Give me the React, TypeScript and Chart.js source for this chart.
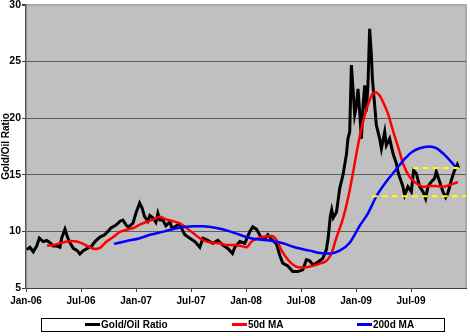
import { useEffect, useRef } from "react";
import { Chart, registerables } from "chart.js";

Chart.register(...registerables);

// x positions are decimal years (2006.0 = 1 Jan 2006)
const tickYears = [2006, 2006.5, 2007, 2007.5, 2008, 2008.5, 2009, 2009.5];
const tickLabels = ["Jan-06", "Jul-06", "Jan-07", "Jul-07", "Jan-08", "Jul-08", "Jan-09", "Jul-09"];
const yTicks = [5, 10, 15, 20, 25, 30];

const seriesNames = ["Gold/Oil Ratio", "50d MA", "200d MA"];

const ratioDates = [
  2006.006, 2006.036, 2006.066, 2006.097, 2006.121, 2006.157, 2006.188, 2006.218, 2006.248, 2006.279,
  2006.309, 2006.324, 2006.354, 2006.370, 2006.393, 2006.430, 2006.466, 2006.490, 2006.520, 2006.557,
  2006.597, 2006.627, 2006.672, 2006.715, 2006.745, 2006.772, 2006.808, 2006.836, 2006.854, 2006.881,
  2006.915, 2006.931, 2006.972, 2006.999, 2007.033, 2007.054, 2007.078, 2007.108, 2007.126, 2007.153,
  2007.181, 2007.199, 2007.217, 2007.244, 2007.272, 2007.308, 2007.326, 2007.353, 2007.381, 2007.399,
  2007.444, 2007.490, 2007.535, 2007.580, 2007.608, 2007.653, 2007.698, 2007.744, 2007.789, 2007.835,
  2007.877, 2007.898, 2007.944, 2007.989, 2008.035, 2008.062, 2008.095, 2008.141, 2008.171, 2008.198,
  2008.232, 2008.277, 2008.307, 2008.334, 2008.380, 2008.425, 2008.470, 2008.516, 2008.549, 2008.579,
  2008.607, 2008.640, 2008.670, 2008.698, 2008.731, 2008.748, 2008.766, 2008.779, 2008.793, 2008.822,
  2008.834, 2008.852, 2008.882, 2008.913, 2008.927, 2008.943, 2008.958, 2008.973, 2008.988, 2009.004,
  2009.018, 2009.034, 2009.049, 2009.064, 2009.079, 2009.094, 2009.109, 2009.124, 2009.140, 2009.149,
  2009.170, 2009.185, 2009.200, 2009.215, 2009.231, 2009.261, 2009.276, 2009.306, 2009.336, 2009.367,
  2009.381, 2009.397, 2009.427, 2009.442, 2009.472, 2009.503, 2009.524, 2009.549, 2009.579, 2009.609,
  2009.633, 2009.654, 2009.685, 2009.715, 2009.730, 2009.760, 2009.790, 2009.815, 2009.836, 2009.866,
  2009.896, 2009.921, 2009.933,
];
const ratioValues = [
  8.4, 8.6, 8.2, 8.7, 9.4, 9.1, 9.2, 9.0, 8.7, 8.7,
  8.6, 9.4, 10.2, 9.7, 9.1, 8.5, 8.3, 8.0, 8.3, 8.5,
  8.7, 9.1, 9.5, 9.7, 10.0, 10.3, 10.5, 10.7, 10.9, 11.0,
  10.5, 10.4, 10.7, 11.6, 12.5, 12.1, 11.3, 10.9, 11.4, 11.2,
  10.8, 11.6, 11.0, 11.0, 10.5, 10.85, 10.3, 10.4, 10.6, 10.55,
  9.7, 9.4, 9.1, 8.6, 9.4, 9.2, 8.95, 9.2, 8.8, 8.5,
  8.05, 8.6, 9.1, 8.95, 10.0, 10.4, 10.2, 9.4, 9.3, 9.7,
  9.3, 8.9, 7.9, 7.2, 6.95, 6.45, 6.45, 6.6, 7.5, 7.4,
  7.05, 7.2, 7.4, 7.6, 8.4, 9.5, 11.3, 11.9, 11.2, 11.7,
  12.5, 13.8, 15.0, 16.8, 18.2, 18.8, 24.7, 22.6, 20.3, 21.1,
  22.6, 20.5, 18.2, 21.1, 22.9, 20.6, 23.0, 27.9, 25.6, 23.5,
  21.1, 19.4, 18.8, 18.2, 17.3, 18.8, 17.6, 18.2, 16.9, 16.0,
  15.3, 14.8, 13.95, 13.2, 13.95, 13.5, 15.4, 15.1, 13.95, 13.5,
  12.9, 13.95, 14.4, 14.7, 15.3, 14.4, 13.5, 13.0, 13.4, 14.5,
  15.4, 15.9, 15.6,
];

const ma50Dates = [
  2006.191, 2006.248, 2006.309, 2006.370, 2006.415, 2006.460, 2006.520, 2006.581, 2006.627, 2006.672,
  2006.733, 2006.793, 2006.854, 2006.915, 2006.975, 2007.035, 2007.096, 2007.156, 2007.217, 2007.278,
  2007.338, 2007.399, 2007.460, 2007.520, 2007.580, 2007.641, 2007.701, 2007.762, 2007.823, 2007.898,
  2007.959, 2008.005, 2008.050, 2008.110, 2008.171, 2008.232, 2008.277, 2008.322, 2008.382, 2008.443,
  2008.504, 2008.564, 2008.625, 2008.670, 2008.731, 2008.777, 2008.822, 2008.882, 2008.927, 2008.973,
  2009.018, 2009.064, 2009.109, 2009.154, 2009.179, 2009.215, 2009.245, 2009.291, 2009.336, 2009.397,
  2009.427, 2009.488, 2009.549, 2009.609, 2009.669, 2009.730, 2009.790, 2009.851, 2009.896, 2009.927,
];
const ma50Values = [
  8.75, 8.8, 8.95, 9.1, 9.15, 9.1, 8.9, 8.6, 8.45, 8.55,
  9.1, 9.5, 9.95, 10.15, 10.3, 10.6, 10.85, 11.05, 11.3, 11.05,
  10.9, 10.7, 10.3, 9.85, 9.4, 9.1, 9.0, 8.95, 8.8, 8.8,
  8.7, 8.6, 9.1, 9.4, 9.55, 9.6, 9.25, 8.35, 7.5, 6.95,
  6.8, 6.85, 7.0, 7.15, 7.4, 8.05, 9.45, 11.15, 12.9, 15.2,
  17.6, 19.7, 21.2, 22.2, 22.3, 22.0, 21.45, 20.4, 18.9, 17.0,
  16.0, 14.8, 14.25, 13.95, 14.0, 14.0, 13.95, 14.1, 14.25, 14.35,
];

const ma200Dates = [
  2006.799, 2006.915, 2007.035, 2007.126, 2007.260, 2007.381, 2007.520, 2007.610, 2007.732, 2007.853,
  2007.974, 2008.095, 2008.216, 2008.337, 2008.459, 2008.579, 2008.670, 2008.761, 2008.852, 2008.943,
  2009.034, 2009.109, 2009.185, 2009.276, 2009.367, 2009.442, 2009.506, 2009.579, 2009.669, 2009.730,
  2009.790, 2009.851, 2009.915,
];
const ma200Values = [
  8.9, 9.15, 9.4, 9.7, 10.0, 10.3, 10.45, 10.45, 10.3, 10.0,
  9.6, 9.3, 9.2, 8.95, 8.55, 8.3, 8.1, 8.05, 8.3, 9.0,
  10.5, 11.6, 13.1, 14.4, 15.5, 16.4, 17.0, 17.35, 17.5, 17.35,
  16.9, 16.3, 15.6,
];

const bandHigh = 15.6;
const bandHighSpan = [2009.515, 2009.94];
const bandLow = 13.1;
const bandLowSpan = [2009.143, 2010.0];

const FONT = "Arial, 'Liberation Sans', sans-serif";

const pts = (xs: number[], ys: number[]) => xs.map((x, i) => ({ x, y: ys[i] }));

const plotBg = {
  id: "plotBg",
  beforeDraw(chart: any) {
    const { ctx, chartArea: a } = chart;
    ctx.save();
    ctx.fillStyle = "#c0c0c0";
    ctx.fillRect(a.left, a.top, a.right - a.left, a.bottom - a.top);
    ctx.strokeStyle = "#a9a9a9";
    ctx.lineWidth = 2;
    ctx.beginPath();
    ctx.moveTo(a.left, a.top);
    ctx.lineTo(a.right, a.top);
    ctx.lineTo(a.right, a.bottom);
    ctx.stroke();
    ctx.restore();
  },
};

const boxLegend = {
  id: "boxLegend",
  afterDraw(chart: any) {
    const ctx = chart.ctx;
    ctx.save();
    ctx.fillStyle = "#ffffff";
    ctx.fillRect(42, 319, 402, 12);
    ctx.strokeStyle = "#000000";
    ctx.lineWidth = 1;
    ctx.strokeRect(41.5, 318.5, 403, 13);
    const starts = [85, 232, 357];
    ctx.font = `bold 10px ${FONT}`;
    ctx.textBaseline = "middle";
    ctx.textAlign = "left";
    seriesNames.forEach((name, i) => {
      const ds = chart.data.datasets[i];
      ctx.strokeStyle = ds.borderColor;
      ctx.lineWidth = 3;
      ctx.beginPath();
      ctx.moveTo(starts[i], 324.5);
      ctx.lineTo(starts[i] + 15, 324.5);
      ctx.stroke();
      ctx.fillStyle = "#000";
      ctx.fillText(name, starts[i] + 16, 325);
    });
    ctx.restore();
  },
};

export default function App() {
  const ref = useRef<HTMLCanvasElement | null>(null);
  useEffect(() => {
    document.body.style.margin = "0";
    const chart = new Chart(ref.current as HTMLCanvasElement, {
      type: "line",
      data: {
        datasets: [
          {
            label: seriesNames[0],
            data: pts(ratioDates, ratioValues),
            borderColor: "#000000",
            borderWidth: 3,
            pointRadius: 0,
            tension: 0,
            order: 3,
          },
          {
            label: seriesNames[1],
            data: pts(ma50Dates, ma50Values),
            borderColor: "#ff0000",
            borderWidth: 2.5,
            pointRadius: 0,
            cubicInterpolationMode: "monotone",
            order: 2,
          },
          {
            label: seriesNames[2],
            data: pts(ma200Dates, ma200Values),
            borderColor: "#0000ff",
            borderWidth: 2.5,
            pointRadius: 0,
            cubicInterpolationMode: "monotone",
            order: 1,
          },
          {
            label: "upper",
            data: bandHighSpan.map((x) => ({ x, y: bandHigh })),
            borderColor: "#ffff00",
            borderWidth: 2,
            borderDash: [6, 4],
            pointRadius: 0,
            order: 0,
          },
          {
            label: "lower",
            data: bandLowSpan.map((x) => ({ x, y: bandLow })),
            borderColor: "#ffff00",
            borderWidth: 2,
            borderDash: [6, 4],
            pointRadius: 0,
            order: 0,
          },
        ],
      },
      options: {
        animation: false,
        responsive: false,
        maintainAspectRatio: false,
        layout: { padding: { left: 0, top: 5, right: 4, bottom: 28 } },
        plugins: { legend: { display: false }, tooltip: { enabled: false } },
        scales: {
          x: {
            type: "linear",
            min: 2006,
            max: 2010,
            afterBuildTicks: (s: any) => {
              s.ticks = tickYears.map((v) => ({ value: v }));
            },
            afterFit: (s: any) => {
              s.height = 20;
              s.paddingLeft = 0;
              s.paddingRight = 0;
            },
            ticks: {
              autoSkip: false,
              maxRotation: 0,
              padding: 3,
              color: "#000",
              font: { family: FONT, size: 10, weight: "bold" },
              callback: (v: any) => {
                const i = tickYears.indexOf(Number(v));
                return i >= 0 ? tickLabels[i] : "";
              },
            },
            grid: {
              drawOnChartArea: false,
              drawTicks: true,
              tickLength: 4,
              tickColor: "#404040",
            },
            border: { display: true, color: "#404040", width: 1 },
          },
          y: {
            min: 5,
            max: 30,
            afterBuildTicks: (s: any) => {
              s.ticks = yTicks.map((v) => ({ value: v }));
            },
            afterFit: (s: any) => {
              s.width = 26;
              s.paddingTop = 0;
              s.paddingBottom = 0;
            },
            ticks: {
              padding: 1,
              color: "#000",
              font: { family: FONT, size: 10.5, weight: "bold" },
            },
            grid: {
              color: (c: any) => (c.tick && c.tick.value === 30 ? "#a9a9a9" : "#5c5c5c"),
              lineWidth: (c: any) => (c.tick && c.tick.value === 30 ? 2 : 1),
              drawTicks: true,
              tickLength: 4,
              tickColor: "#404040",
            },
            border: { display: true, color: "#555555", width: 1.5 },
            title: {
              display: true,
              text: "Gold/Oil Ratio",
              color: "#000",
              padding: { top: 0, bottom: 0 },
              font: { family: FONT, size: 10, weight: "bold" },
            },
          },
        },
      },
      plugins: [plotBg, boxLegend],
    } as any);
    return () => chart.destroy();
  }, []);
  return (
    <div style={{ width: 470, height: 336 }}>
      <canvas ref={ref} width={470} height={336} style={{ display: "block" }} />
    </div>
  );
}
